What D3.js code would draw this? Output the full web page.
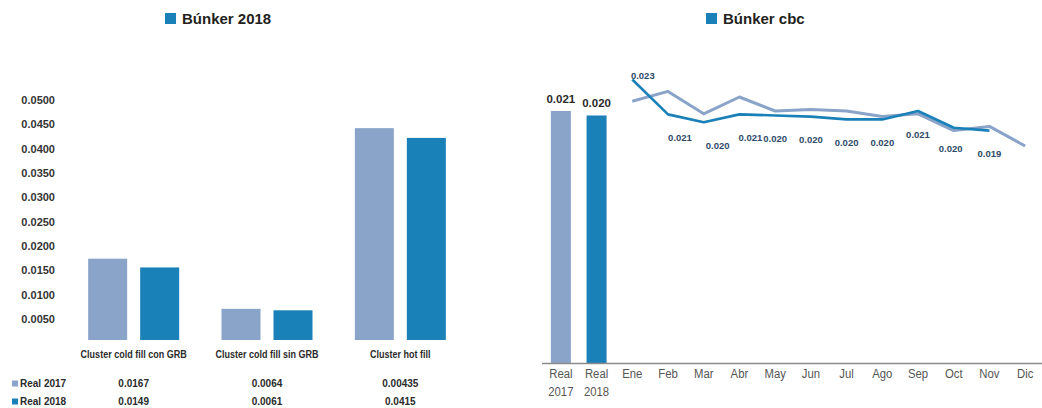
<!DOCTYPE html>
<html>
<head>
<meta charset="utf-8">
<script src="https://cdn.jsdelivr.net/npm/d3@7/dist/d3.min.js"></script>
<style>
  html, body { margin: 0; padding: 0; background: #fff; }
  svg { display: block; }
  text { font-family: "Liberation Sans", Arial, sans-serif; }
</style>
</head>
<body>
<svg id="chart" width="1042" height="408"></svg>
<script>
// ---- Búnker 2018 (grouped bars) ----
const clusterCategories = ["Cluster cold fill con GRB", "Cluster cold fill sin GRB", "Cluster hot fill"];
const clusterSeries = ["Real 2017", "Real 2018"];
const clusterReal2017 = [0.0167, 0.0064, 0.0435];
const clusterReal2018 = [0.0149, 0.0061, 0.0415];
// values as printed in the table under the bars
const tableText2017 = ["0.0167", "0.0064", "0.00435"];
const tableText2018 = ["0.0149", "0.0061", "0.0415"];
const clusterTicks = [0.005, 0.010, 0.015, 0.020, 0.025, 0.030, 0.035, 0.040, 0.045, 0.050];

// ---- Búnker cbc (real bars + monthly lines) ----
const cbcCategories = ["Real 2017", "Real 2018", "Ene", "Feb", "Mar", "Abr", "May", "Jun", "Jul", "Ago", "Sep", "Oct", "Nov", "Dic"];
const cbcRealLabels = ["Real 2017", "Real 2018"];
const cbcRealValues = [0.0208, 0.02048];
const cbcMonths = ["Ene", "Feb", "Mar", "Abr", "May", "Jun", "Jul", "Ago", "Sep", "Oct", "Nov", "Dic"];
const cbcMonthly2017 = [0.0215, 0.0222, 0.0206, 0.0218, 0.0208, 0.0209, 0.0208, 0.0204, 0.0206, 0.0194, 0.0197, 0.0183];
const cbcMonthly2018 = [0.02305, 0.02056, 0.0200, 0.02056, 0.02048, 0.0204, 0.0202, 0.0202, 0.0208, 0.0196, 0.0194, null];

const colLight = "#8aa3c9";
const colDark = "#1a80b8";
const textDark = "#2b2b2b";

const svg = d3.select("#chart");

// condensed text: regular face squeezed horizontally
function narrowText(parent, x, y, str, size, weight, fill, squeeze) {
  return parent.append("text")
    .attr("transform", `translate(${x},${y}) scale(${squeeze},1)`)
    .attr("text-anchor", "middle")
    .attr("font-size", size).attr("font-weight", weight).attr("fill", fill)
    .text(str);
}

// ---------- left chart ----------
const left = svg.append("g");

left.append("rect").attr("x", 165).attr("y", 13).attr("width", 11).attr("height", 11).attr("fill", colDark);
left.append("text").attr("x", 182).attr("y", 24)
  .attr("font-size", 15).attr("font-weight", "bold").attr("fill", "#231f20")
  .text("Búnker 2018");

const yL = d3.scaleLinear().domain([0, 0.05]).range([340, 96.5]);
const x0 = d3.scaleBand().domain(clusterCategories).range([67, 467]);
const x1 = d3.scaleBand().domain(clusterSeries).range([-52, 52]).paddingInner(0.25).paddingOuter(0.125);
const seriesColor = d3.scaleOrdinal().domain(clusterSeries).range([colLight, colDark]);

// tick labels only, no axis line
const yAxisL = d3.axisLeft(yL).tickValues(clusterTicks).tickFormat(d3.format(".4f")).tickSize(0).tickPadding(0);
const gy = left.append("g").attr("transform", "translate(55,3.5)").call(yAxisL);
gy.select(".domain").remove();
gy.selectAll("text").attr("font-size", 11).attr("font-weight", "bold").attr("fill", "#333")
  .attr("font-family", "Liberation Sans, Arial, sans-serif");

const clusterRows = clusterCategories.map((c, i) => ({
  cat: c,
  values: [
    { series: clusterSeries[0], value: clusterReal2017[i] },
    { series: clusterSeries[1], value: clusterReal2018[i] }
  ]
}));

const groups = left.selectAll("g.grp").data(clusterRows).join("g")
  .attr("class", "grp")
  .attr("transform", d => `translate(${x0(d.cat) + x0.bandwidth() / 2},0)`);

groups.selectAll("rect").data(d => d.values).join("rect")
  .attr("x", d => x1(d.series))
  .attr("width", x1.bandwidth())
  .attr("y", d => yL(d.value))
  .attr("height", d => yL(0) - yL(d.value))
  .attr("fill", d => seriesColor(d.series));

groups.each(function (d) {
  narrowText(d3.select(this), 0, 358, d.cat, 11, "bold", textDark, 0.82);
});

// data table under the bars
const tableRows = [
  { label: clusterSeries[0], texts: tableText2017, y: 383.5 },
  { label: clusterSeries[1], texts: tableText2018, y: 401.5 }
];
tableRows.forEach(row => {
  left.append("rect").attr("x", 12).attr("y", row.y - 3).attr("width", 6).attr("height", 6)
    .attr("fill", seriesColor(row.label));
  left.append("text").attr("x", 20).attr("y", row.y + 3.6)
    .attr("font-size", 10).attr("font-weight", "bold").attr("fill", textDark)
    .text(row.label);
  clusterCategories.forEach((c, i) => {
    left.append("text")
      .attr("x", x0(c) + x0.bandwidth() / 2).attr("y", row.y + 3.6)
      .attr("text-anchor", "middle")
      .attr("font-size", 10).attr("font-weight", "bold").attr("fill", textDark)
      .text(row.texts[i]);
  });
});

// ---------- right chart ----------
const right = svg.append("g");

right.append("rect").attr("x", 706).attr("y", 13).attr("width", 11).attr("height", 11).attr("fill", colDark);
right.append("text").attr("x", 723).attr("y", 24)
  .attr("font-size", 15).attr("font-weight", "bold").attr("fill", "#231f20")
  .text("Búnker cbc");

const xR = d3.scaleBand().domain(cbcCategories).range([543, 1043]).paddingInner(0.44).paddingOuter(0.22);
const yR = d3.scaleLinear().domain([0.0028, 0.0228]).range([363, 83]);
const cx = c => xR(c) + xR.bandwidth() / 2;
const fmt3 = d3.format(".3f");

const realData = cbcRealLabels.map((c, i) => ({ cat: c, value: cbcRealValues[i], color: i === 0 ? colLight : colDark }));

right.selectAll("rect.real").data(realData).join("rect")
  .attr("class", "real")
  .attr("x", d => xR(d.cat))
  .attr("width", xR.bandwidth())
  .attr("y", d => yR(d.value))
  .attr("height", d => yR.range()[0] - yR(d.value))
  .attr("fill", d => d.color);

right.selectAll("text.reallbl").data(realData).join("text")
  .attr("class", "reallbl")
  .attr("x", d => cx(d.cat))
  .attr("y", d => yR(d.value) - 8)
  .attr("text-anchor", "middle")
  .attr("font-size", 11.5).attr("font-weight", "bold").attr("fill", textDark)
  .text(d => fmt3(d.value));

// category axis
const xAxisR = d3.axisBottom(xR).tickSize(0).tickFormat("");
const gx = right.append("g").attr("transform", `translate(0,${yR.range()[0]})`).call(xAxisR);
gx.select(".domain").attr("stroke", "#8c8c8c").attr("stroke-width", 1.5)
  .attr("d", "M542,0.5H1042");

cbcCategories.forEach(c => {
  c.split(" ").forEach((w, j) => {
    narrowText(right, cx(c), 378 + j * 17.5, w, 13.5, "normal", "#555", 0.84);
  });
});

// monthly lines
const line = d3.line()
  .defined(d => d.value != null)
  .x(d => cx(d.month))
  .y(d => yR(d.value));

const s2017 = cbcMonths.map((m, i) => ({ month: m, value: cbcMonthly2017[i] }));
const s2018 = cbcMonths.map((m, i) => ({ month: m, value: cbcMonthly2018[i] }));

right.append("path").datum(s2017).attr("d", line)
  .attr("fill", "none").attr("stroke", colLight).attr("stroke-width", 3)
  .attr("stroke-linejoin", "round");
right.append("path").datum(s2018).attr("d", line)
  .attr("fill", "none").attr("stroke", colDark).attr("stroke-width", 2.6)
  .attr("stroke-linejoin", "round");

// value labels for the 2018 series, sitting under each point
const labelNudge = { Ene: [10.5, -27], Feb: [12, 0], Mar: [14, 0], Abr: [11, 0], Oct: [-3, -2] };
right.selectAll("text.ptlbl").data(s2018.filter(d => d.value != null)).join("text")
  .attr("class", "ptlbl")
  .attr("x", d => cx(d.month) + (labelNudge[d.month] ? labelNudge[d.month][0] : 0))
  .attr("y", d => yR(d.value) + 26.5 + (labelNudge[d.month] ? labelNudge[d.month][1] : 0))
  .attr("text-anchor", "middle")
  .attr("font-size", 9.5).attr("font-weight", "bold").attr("fill", "#2d4a68")
  .text(d => fmt3(d.value));
</script>
</body>
</html>
